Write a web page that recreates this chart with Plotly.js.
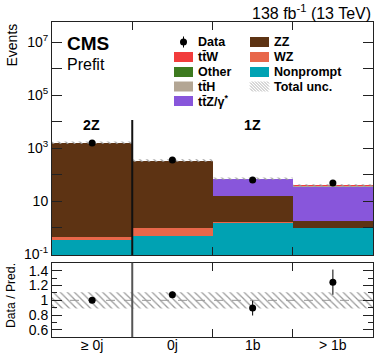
<!DOCTYPE html>
<html><head><meta charset="utf-8">
<script src="https://cdn.plot.ly/plotly-3.0.1.min.js"></script>
<style>html,body{margin:0;padding:0;background:#fff}</style>
</head><body><div id="chart" style="width:374px;height:354px"></div>
<script>
// ---- data ----
const categories = ['\u2265 0j', '0j', '1b', '> 1b'];
const regionLabels = ['2Z', '1Z'];
const nonprompt = [0.36, 0.51, 1.55, 0.98];
const wz        = [0.09, 0.47, 0.06, 0.03];
const zz        = [1550, 330, 14.5, 0.8];
const ttz       = [2, 2, 50, 34];
const tth       = [0.3, 0.3, 1.5, 1.5];
const other     = [45, 8, 2, 1.5];
const ttw       = [0.2, 0.2, 0.8, 0.8];
const dataVals  = [1560, 355, 63, 49];
const relUnc    = [0.11, 0.11, 0.11, 0.11];
const ratioVals = [1.0, 1.077, 0.895, 1.245];
const ratioErr  = [0.025, 0.04, 0.10, 0.17];
const upperTicks = [1e-1, 10, 1e3, 1e5, 1e7];
const upperTickText = ['10<sup>-1</sup>', '10', '10<sup>3</sup>', '10<sup>5</sup>', '10<sup>7</sup>'];
const upperMinorTicks = [1, 100, 1e4, 1e6];
const ratioTicks = [0.6, 0.8, 1, 1.2, 1.4];
const ratioTickText = ['0.6', '0.8', '1', '1.2', '1.4'];
const ratioMinorTicks = [0.7, 0.9, 1.1, 1.3, 1.5];

// ---- build ----
const xc = categories.map((_, i) => i + 0.5);
const edges = categories.map((_, i) => i).concat([categories.length]);
const stack = [
  {name: 'Nonprompt', v: nonprompt, c: '#00a2b3'},
  {name: 'WZ', v: wz, c: '#e8674a'},
  {name: 'ZZ', v: zz, c: '#5d3313'},
  {name: 'ttZ', v: ttz, c: '#8856db'},
  {name: 'ttH', v: tth, c: '#b3a694'},
  {name: 'Other', v: other, c: '#3d7a1f'},
  {name: 'ttW', v: ttw, c: '#f23c3c'}
];
const total = xc.map((_, i) => stack.reduce((s, t) => s + t.v[i], 0));
const step = arr => arr.concat([arr[arr.length - 1]]);

const traces = stack.map(s => ({
  type: 'bar', x: xc, y: s.v, width: 1, xaxis: 'x', yaxis: 'y',
  marker: {color: s.c, line: {width: 0}}, showlegend: false, hoverinfo: 'skip'
}));

const hatch = {shape: '\\', fgcolor: '#9a9a9a', bgcolor: 'rgba(0,0,0,0)', size: 5, solidity: 0.25};
// upper uncertainty band
traces.push({type: 'scatter', mode: 'lines', x: edges, y: step(total.map((t, i) => t * (1 - relUnc[i]))),
  line: {shape: 'hv', width: 0}, xaxis: 'x', yaxis: 'y', showlegend: false, hoverinfo: 'skip'});
traces.push({type: 'scatter', mode: 'lines', x: edges, y: step(total.map((t, i) => t * (1 + relUnc[i]))),
  line: {shape: 'hv', width: 0}, fill: 'tonexty', fillcolor: 'rgba(0,0,0,0)', fillpattern: hatch,
  xaxis: 'x', yaxis: 'y', showlegend: false, hoverinfo: 'skip'});
// ratio uncertainty band
traces.push({type: 'scatter', mode: 'lines', x: edges, y: step(relUnc.map(u => 1 - u)),
  line: {shape: 'hv', width: 0}, xaxis: 'x2', yaxis: 'y2', showlegend: false, hoverinfo: 'skip'});
traces.push({type: 'scatter', mode: 'lines', x: edges, y: step(relUnc.map(u => 1 + u)),
  line: {shape: 'hv', width: 0}, fill: 'tonexty', fillcolor: 'rgba(0,0,0,0)', fillpattern: hatch,
  xaxis: 'x2', yaxis: 'y2', showlegend: false, hoverinfo: 'skip'});
// data
traces.push({type: 'scatter', mode: 'markers', x: xc, y: dataVals, xaxis: 'x', yaxis: 'y',
  marker: {color: '#000', size: 7},
  error_y: {type: 'data', array: dataVals.map(Math.sqrt), color: '#000', thickness: 1, width: 0},
  showlegend: false, hoverinfo: 'skip'});
traces.push({type: 'scatter', mode: 'markers', x: xc, y: ratioVals, xaxis: 'x2', yaxis: 'y2',
  marker: {color: '#000', size: 7},
  error_y: {type: 'data', array: ratioErr, color: '#000', thickness: 1, width: 0},
  showlegend: false, hoverinfo: 'skip'});

// pixel -> paper helpers (plot area: x 52..373, y 22..337)
const P = x => (x - 52) / 321;
const Q = y => (337 - y) / 315;

const FONT = 'Liberation Sans, Arial, Helvetica, sans-serif';
const ann = [];
const txt = (x, y, text, size, opts) => ann.push(Object.assign({
  xref: 'paper', yref: 'paper', x: P(x), y: Q(y), text: text, showarrow: false,
  xanchor: 'left', yanchor: 'middle', font: {family: FONT, size: size, color: '#000'}
}, opts || {}));

txt(373, 12, '138 fb<sup>-1</sup> (13 TeV)', 16, {xanchor: 'right'});
txt(65, 43, '<b>CMS</b>', 19);
txt(65, 65, 'Prefit', 16);
txt(11, 22, 'Events', 14, {textangle: -90, yanchor: 'top', xanchor: 'center'});
txt(11, 296, 'Data / Pred.', 12.2, {textangle: -90, xanchor: 'center'});
txt(91.5, 125, '<b>' + regionLabels[0] + '</b>', 14.2, {xanchor: 'center'});
txt(252.5, 125, '<b>' + regionLabels[1] + '</b>', 14.2, {xanchor: 'center'});
// category labels under the ratio panel
categories.forEach((c, i) => ann.push({xref: 'x2', yref: 'paper', x: xc[i], y: Q(345.5), text: c, showarrow: false,
  xanchor: 'center', yanchor: 'middle', font: {family: FONT, size: 14, color: '#000'}}));

// legend
const shapes = [];
const rows = [42, 57, 72, 86.5, 101];
const legendLeft = [
  {label: 'Data', kind: 'data'},
  {label: 'tt\u0304W', c: '#f23c3c'},
  {label: 'Other', c: '#3d7a1f'},
  {label: 'tt\u0304H', c: '#b3a694'},
  {label: 'tt\u0304Z/\u03b3<sup>*</sup>', c: '#8856db'}
];
const legendRight = [
  {label: 'ZZ', c: '#5d3313'},
  {label: 'WZ', c: '#e8674a'},
  {label: 'Nonprompt', c: '#00a2b3'},
  {label: 'Total unc.', kind: 'hatch'}
];
function legendEntry(e, bx, tx, y) {
  if (e.kind === 'data') {
    shapes.push({type: 'line', xref: 'paper', yref: 'paper', x0: P(bx + 9.5), x1: P(bx + 9.5), y0: Q(y - 5.5), y1: Q(y + 5.5), line: {color: '#000', width: 1}});
    shapes.push({type: 'circle', xref: 'paper', yref: 'paper', x0: P(bx + 6), x1: P(bx + 13), y0: Q(y + 3.5), y1: Q(y - 3.5), fillcolor: '#000', line: {width: 0}});
  } else if (e.kind === 'hatch') {
    const x0 = bx, x1 = bx + 19, y0 = y - 5, y1 = y + 5;
    let path = '';
    for (let t = -10; t < 19; t += 3) {
      let ax = x0 + t, ay = y0, bx2 = x0 + t + 10, by = y1;
      if (ax < x0) { ay += (x0 - ax); ax = x0; }
      if (bx2 > x1) { by -= (bx2 - x1); bx2 = x1; }
      if (bx2 <= ax) continue;
      path += 'M' + P(ax) + ',' + Q(ay) + 'L' + P(bx2) + ',' + Q(by);
    }
    shapes.push({type: 'path', xref: 'paper', yref: 'paper', path: path, line: {color: '#b0b0b0', width: 1}});
  } else {
    shapes.push({type: 'rect', xref: 'paper', yref: 'paper', x0: P(bx), x1: P(bx + 19), y0: Q(y + 5), y1: Q(y - 5), fillcolor: e.c, line: {width: 0}});
  }
  txt(tx, y, '<b>' + e.label + '</b>', 12.5);
}
legendLeft.forEach((e, i) => legendEntry(e, 174, 196, rows[i]));
legendRight.forEach((e, i) => legendEntry(e, 250, 272, rows[i]));

// divider between 2Z and 1Z, and ratio reference line
shapes.push({type: 'line', xref: 'x', yref: 'paper', x0: 1, x1: 1, y0: Q(255), y1: Q(120), line: {color: '#111', width: 2}});
shapes.push({type: 'line', xref: 'x2', yref: 'paper', x0: 1, x1: 1, y0: 0, y1: Q(262.7), line: {color: '#555', width: 2}});
shapes.push({type: 'line', xref: 'x2', yref: 'y2', x0: 0, x1: 4, y0: 1, y1: 1, line: {color: '#999', width: 1, dash: 'dash'}, layer: 'below'});

const axLine = {showline: true, mirror: 'ticks', linecolor: '#222', linewidth: 1, showgrid: false, zeroline: false};
const layout = {
  width: 374, height: 354, margin: {l: 52, r: 1, t: 22, b: 17},
  paper_bgcolor: '#fff', plot_bgcolor: '#fff', barmode: 'stack', bargap: 0, showlegend: false,
  font: {family: FONT, size: 14, color: '#000'},
  xaxis: Object.assign({domain: [0, 1], anchor: 'y', range: [0, 4], tickmode: 'array', tickvals: [], showticklabels: false, ticks: '',
    minor: {tickmode: 'array', tickvals: [1, 2, 3], ticks: 'inside', ticklen: 8, tickcolor: '#222', showgrid: false}}, axLine),
  xaxis2: Object.assign({domain: [0, 1], anchor: 'y2', range: [0, 4], tickmode: 'array', tickvals: [], showticklabels: false, ticks: '',
    minor: {tickmode: 'array', tickvals: [1, 2, 3], ticks: 'inside', ticklen: 8, tickcolor: '#222', showgrid: false}}, axLine),
  yaxis: Object.assign({domain: [Q(255), 1], anchor: 'x', type: 'log', range: [-1.026, 7.755], tickmode: 'array',
    tickvals: upperTicks, ticktext: upperTickText, ticks: 'inside', ticklen: 10, tickcolor: '#222', tickfont: {size: 14},
    minor: {tickmode: 'array', tickvals: upperMinorTicks, ticks: 'inside', ticklen: 10, tickcolor: '#222', showgrid: false}}, axLine),
  yaxis2: Object.assign({domain: [0, Q(262.7)], anchor: 'x2', range: [0.505, 1.508], tickmode: 'array',
    tickvals: ratioTicks, ticktext: ratioTickText, ticks: 'inside', ticklen: 10, tickcolor: '#222', tickfont: {size: 14},
    minor: {tickmode: 'array', tickvals: ratioMinorTicks, ticks: 'inside', ticklen: 5, tickcolor: '#222', showgrid: false}}, axLine),
  shapes: shapes, annotations: ann
};
Plotly.newPlot('chart', traces, layout, {staticPlot: true, displayModeBar: false});
</script></body></html>
